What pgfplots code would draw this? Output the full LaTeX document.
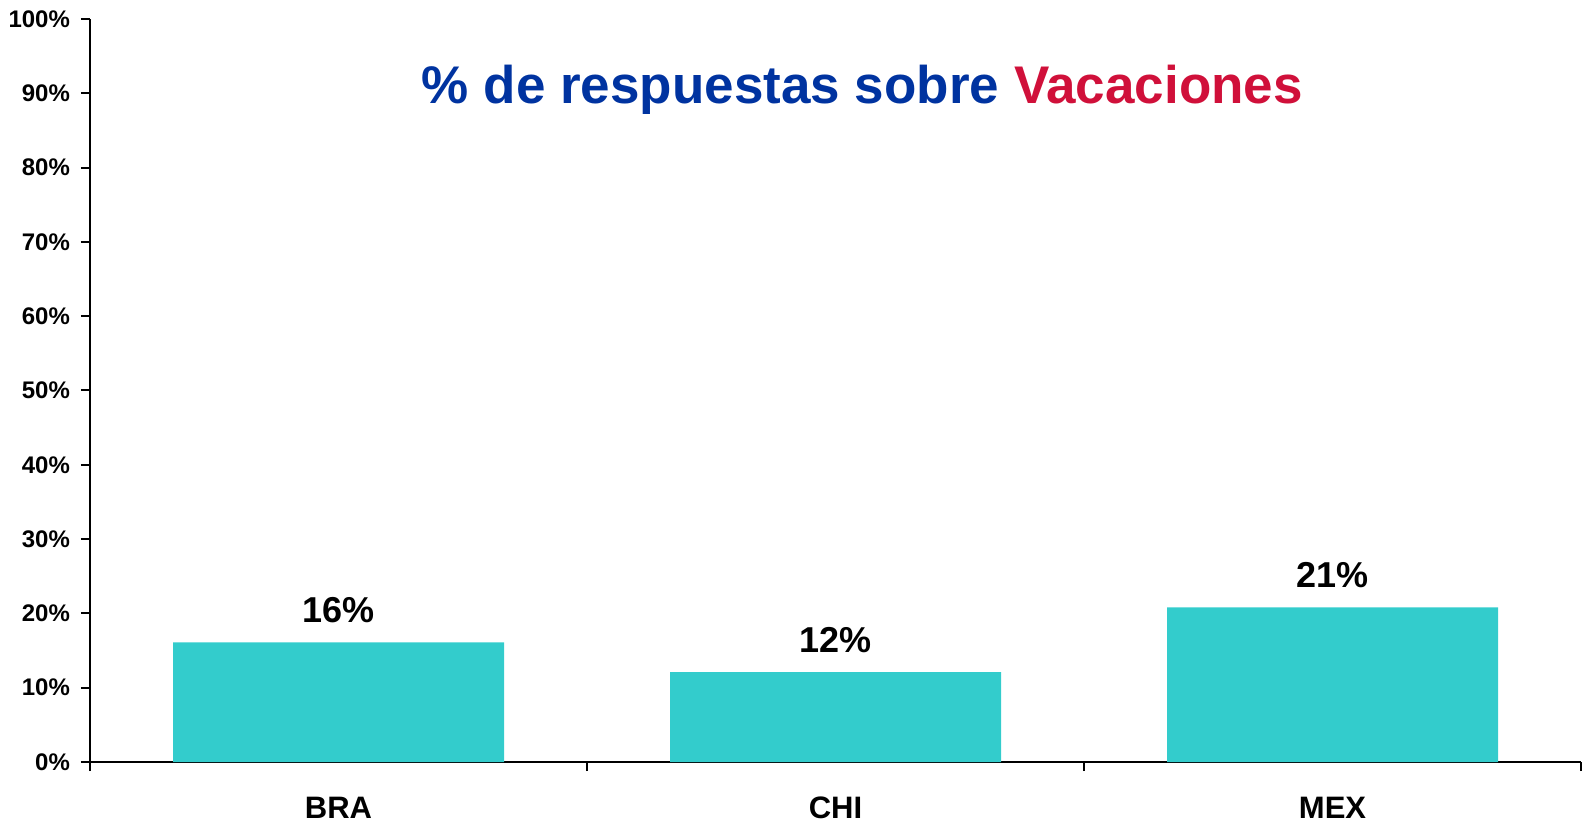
\documentclass[border=0pt]{standalone}
\usepackage{fontspec}
\setmainfont{Liberation Sans}
\usepackage{pgfplots}
\pgfplotsset{compat=1.18}
\definecolor{barc}{HTML}{33CCCC}
\definecolor{titleblue}{HTML}{0033A0}
\definecolor{titlered}{HTML}{D0103A}
\begin{document}
\begin{tikzpicture}
\path[use as bounding box] (-45pt,-31pt) rectangle (746pt,381pt);
\begin{axis}[
  at={(0pt,0pt)}, anchor=south west,
  scale only axis, width=745.5pt, height=371.5pt,
  xmin=-0.5, xmax=2.5, ymin=0, ymax=100,
  axis x line=bottom, axis y line=left,
  axis line style={-, line width=1pt, black},
  xtick={-0.5,0.5,1.5,2.5}, xticklabels={},
  extra x ticks={0,1,2}, extra x tick labels={BRA,CHI,MEX},
  extra x tick style={tick style={draw=none},
    xticklabel style={font=\fontsize{15.5}{17}\selectfont\bfseries, anchor=base, yshift=-23.5pt}},
  ytick={0,10,...,100},
  yticklabel={\pgfmathprintnumber{\tick}\%},
  /pgf/number format/assume math mode=true,
  tick align=outside, major tick length=4.5pt,
  tick style={line width=1pt, black},
  yticklabel style={font=\fontsize{12}{13}\selectfont\bfseries, xshift=-2pt},
  typeset ticklabels with strut=false,
  ybar, bar width=165.5pt, bar shift=0pt,
  nodes near coords={\pgfmathprintnumber[fixed,precision=0]{\pgfplotspointmeta}\%},
  every node near coord/.append style={font=\fontsize{18}{20}\selectfont\bfseries, anchor=base, yshift=10pt},
  clip=false,
]
\addplot[draw=none, fill=barc] coordinates {(0,16.1) (1,12.1) (2,20.8)};
\node[anchor=base, font=\fontsize{26.5}{30}\selectfont\bfseries] at (rel axis cs:0.518,0.886)
  {\textcolor{titleblue}{\% de respuestas sobre} \textcolor{titlered}{Vacaciones}};
\end{axis}
\end{tikzpicture}
\end{document}
